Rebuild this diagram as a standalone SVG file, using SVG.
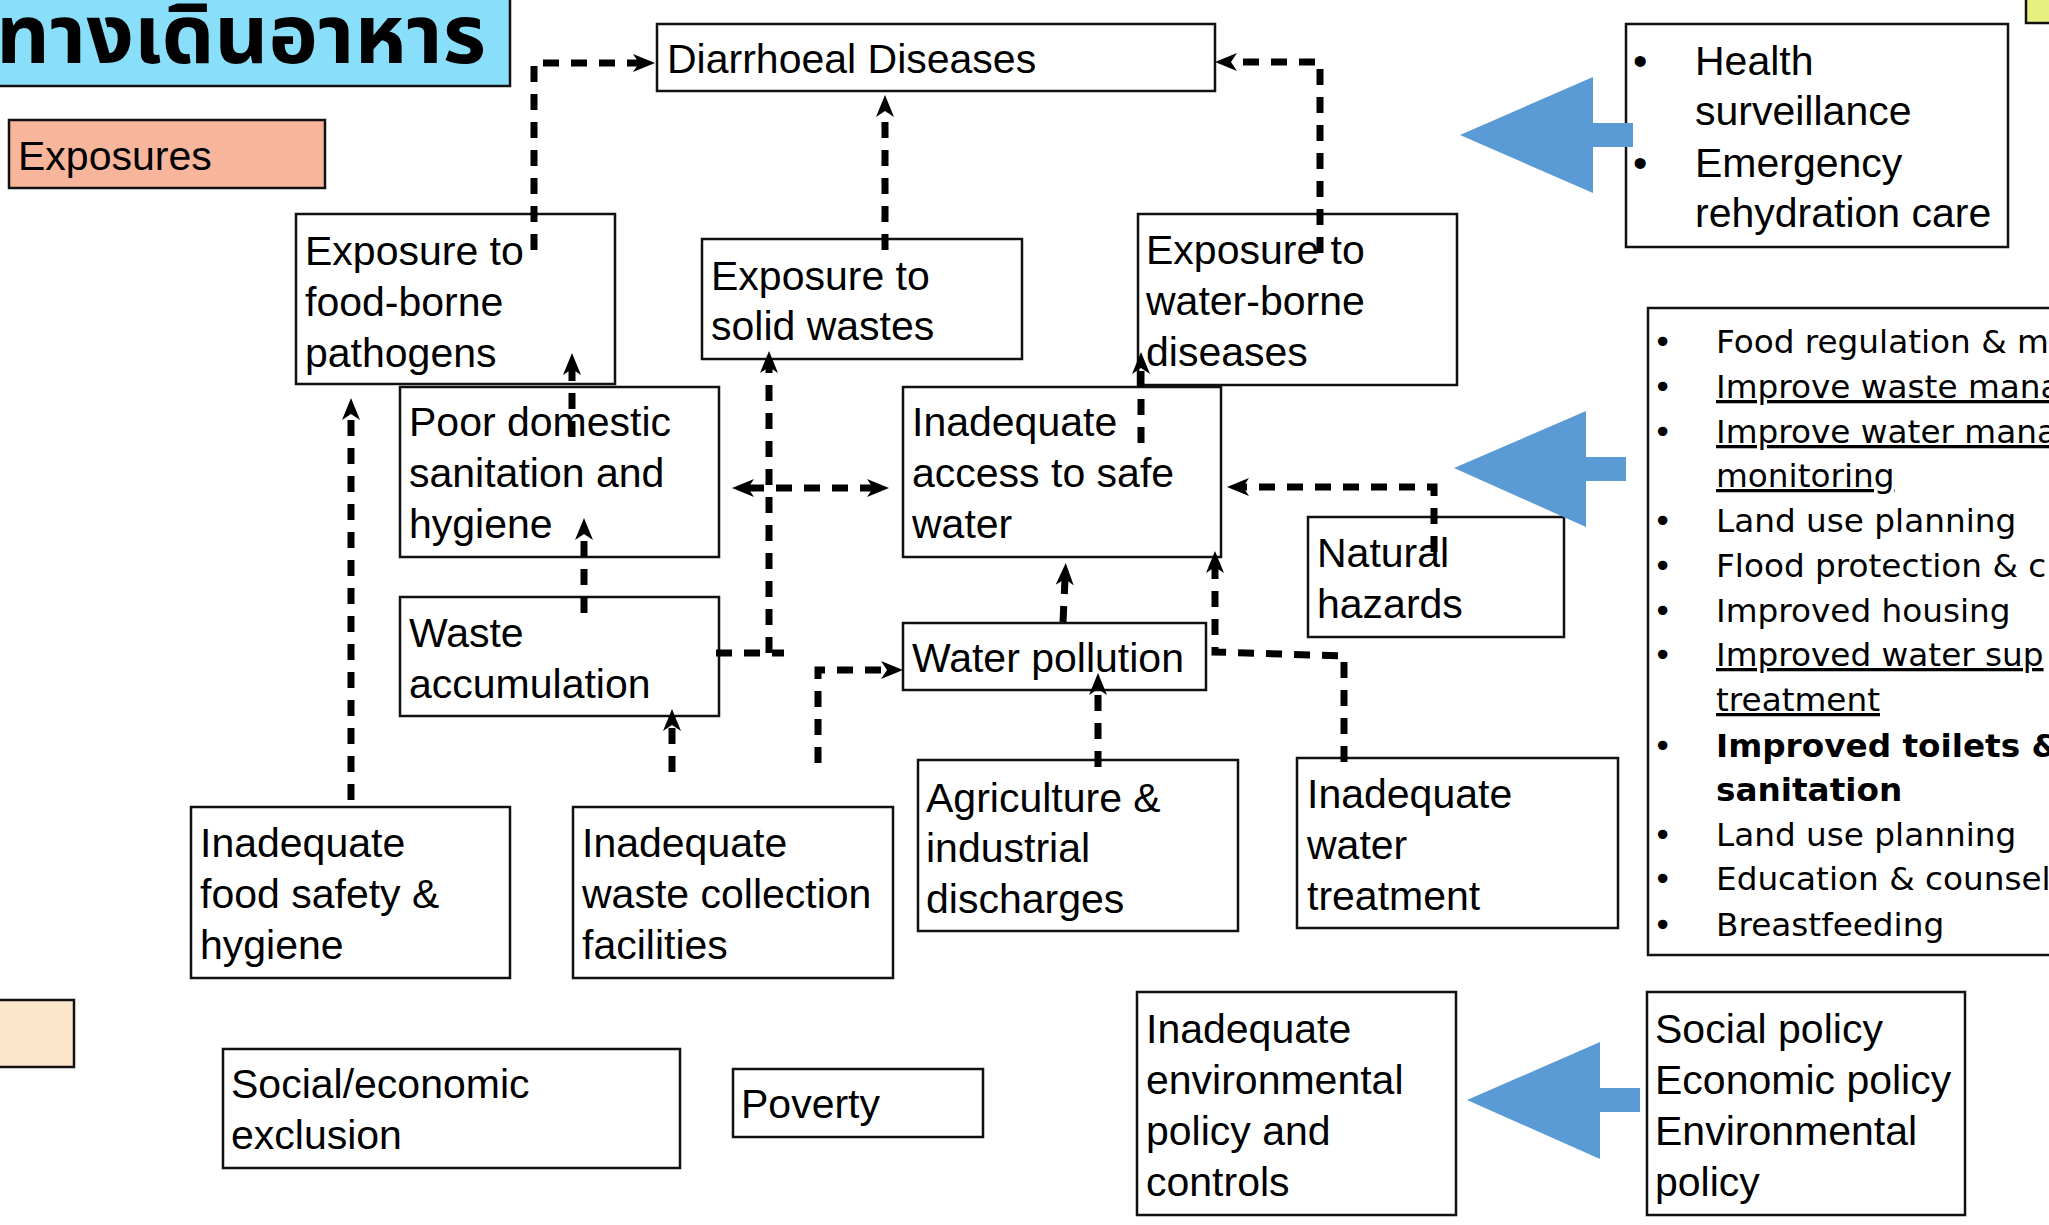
<svg xmlns="http://www.w3.org/2000/svg" width="2049" height="1225" viewBox="0 0 2049 1225">
<style>
.box{fill:#fff;stroke:#111;stroke-width:2.5}
.t{font-family:"Liberation Sans",Arial,sans-serif;font-size:41px;fill:#000}
.l{font-family:"DejaVu Sans",Verdana,sans-serif;font-size:32.7px;fill:#000}
.u{text-decoration:underline}
.b{font-weight:bold}
.c{fill:none;stroke:#000;stroke-width:7;stroke-dasharray:16 12}
.ca{fill:none;stroke:#000;stroke-width:7;stroke-dasharray:16 12;marker-end:url(#ah)}
.blue{fill:#5B9BD5}
</style>
<defs>
<marker id="ah" viewBox="0 0 22 18" refX="6" refY="9" markerWidth="22" markerHeight="18" markerUnits="userSpaceOnUse" orient="auto-start-reverse"><path d="M0,0 L22,9 L0,18 L6,9 Z" fill="#000"/></marker>
</defs>
<rect width="2049" height="1225" fill="#fff"/>

<g id="title">
<rect x="-5" y="-5" width="515" height="91" fill="#89DFFA" stroke="#111" stroke-width="2.5"/>
<text x="-4" y="63" font-family="'Noto Sans Thai','Noto Sans','DejaVu Sans',sans-serif" font-size="82" font-weight="bold" textLength="490" lengthAdjust="spacingAndGlyphs">ทางเดินอาหาร</text>
</g>
<g id="legend-exposures">
<rect x="9" y="120" width="316" height="68" fill="#F7B59B" stroke="#111" stroke-width="2.5"/>
<text class="t" x="18" y="170">Exposures</text>
</g>
<g id="legend-peach"><rect x="-5" y="1000" width="79" height="67" fill="#FCE6CB" stroke="#111" stroke-width="2.5"/></g>
<g id="legend-yellow"><rect x="2026" y="-5" width="40" height="28" fill="#E6F07F" stroke="#111" stroke-width="2.5"/></g>

<g id="diarrhoeal"><rect class="box" x="657" y="24" width="558" height="67"/><text class="t" x="667" y="73">Diarrhoeal Diseases</text></g>
<g id="exp-food"><rect class="box" x="296" y="214" width="319" height="170"/><text class="t" x="305" y="265">Exposure to</text><text class="t" x="305" y="316">food-borne</text><text class="t" x="305" y="367">pathogens</text></g>
<g id="exp-solid"><rect class="box" x="702" y="239" width="320" height="120"/><text class="t" x="711" y="290">Exposure to</text><text class="t" x="711" y="340">solid wastes</text></g>
<g id="exp-water"><rect class="box" x="1138" y="214" width="319" height="171"/><text class="t" x="1146" y="264">Exposure to</text><text class="t" x="1146" y="315">water-borne</text><text class="t" x="1146" y="366">diseases</text></g>
<g id="poor-sanitation"><rect class="box" x="400" y="387" width="319" height="170"/><text class="t" x="409" y="436">Poor domestic</text><text class="t" x="409" y="487">sanitation and</text><text class="t" x="409" y="538">hygiene</text></g>
<g id="safe-water"><rect class="box" x="903" y="387" width="318" height="170"/><text class="t" x="912" y="436">Inadequate</text><text class="t" x="912" y="487">access to safe</text><text class="t" x="912" y="538">water</text></g>
<g id="natural-hazards"><rect class="box" x="1308" y="517" width="256" height="120"/><text class="t" x="1317" y="567">Natural</text><text class="t" x="1317" y="618">hazards</text></g>
<g id="waste-accumulation"><rect class="box" x="400" y="597" width="319" height="119"/><text class="t" x="409" y="647">Waste</text><text class="t" x="409" y="698">accumulation</text></g>
<g id="water-pollution"><rect class="box" x="903" y="623" width="303" height="67"/><text class="t" x="912" y="672">Water pollution</text></g>
<g id="food-safety"><rect class="box" x="191" y="807" width="319" height="171"/><text class="t" x="200" y="857">Inadequate</text><text class="t" x="200" y="908">food safety &amp;</text><text class="t" x="200" y="959">hygiene</text></g>
<g id="waste-collection"><rect class="box" x="573" y="807" width="320" height="171"/><text class="t" x="582" y="857">Inadequate</text><text class="t" x="582" y="908">waste collection</text><text class="t" x="582" y="959">facilities</text></g>
<g id="agriculture"><rect class="box" x="918" y="760" width="320" height="171"/><text class="t" x="926" y="812">Agriculture &amp;</text><text class="t" x="926" y="862">industrial</text><text class="t" x="926" y="913">discharges</text></g>
<g id="water-treatment"><rect class="box" x="1297" y="758" width="321" height="170"/><text class="t" x="1307" y="808">Inadequate</text><text class="t" x="1307" y="859">water</text><text class="t" x="1307" y="910">treatment</text></g>
<g id="social-exclusion"><rect class="box" x="223" y="1049" width="457" height="119"/><text class="t" x="231" y="1098">Social/economic</text><text class="t" x="231" y="1149">exclusion</text></g>
<g id="poverty"><rect class="box" x="733" y="1069" width="250" height="68"/><text class="t" x="741" y="1118">Poverty</text></g>
<g id="env-policy"><rect class="box" x="1137" y="992" width="319" height="223"/><text class="t" x="1146" y="1043">Inadequate</text><text class="t" x="1146" y="1094">environmental</text><text class="t" x="1146" y="1145">policy and</text><text class="t" x="1146" y="1196">controls</text></g>
<g id="policies"><rect class="box" x="1647" y="992" width="318" height="223"/><text class="t" x="1655" y="1043">Social policy</text><text class="t" x="1655" y="1094">Economic policy</text><text class="t" x="1655" y="1145">Environmental</text><text class="t" x="1655" y="1196">policy</text></g>
<g id="health-actions"><rect class="box" x="1626" y="24" width="382" height="223"/>
<text class="t" x="1633" y="75">•</text><text class="t" x="1695" y="75">Health</text><text class="t" x="1695" y="125">surveillance</text>
<text class="t" x="1633" y="177">•</text><text class="t" x="1695" y="177">Emergency</text><text class="t" x="1695" y="227">rehydration care</text></g>
<g id="env-actions"><rect class="box" x="1648" y="308" width="420" height="647"/>
<text class="l" x="1653" y="353">•</text><text class="l" x="1716" y="353">Food regulation &amp; m</text>
<text class="l" x="1653" y="398">•</text><text class="l u" x="1716" y="398">Improve waste mana</text>
<text class="l" x="1653" y="443">•</text><text class="l u" x="1716" y="443">Improve water mana</text>
<text class="l u" x="1716" y="487">monitoring</text>
<text class="l" x="1653" y="532">•</text><text class="l" x="1716" y="532">Land use planning</text>
<text class="l" x="1653" y="577">•</text><text class="l" x="1716" y="577">Flood protection &amp; c</text>
<text class="l" x="1653" y="622">•</text><text class="l" x="1716" y="622">Improved housing</text>
<text class="l" x="1653" y="666">•</text><text class="l u" x="1716" y="666">Improved water sup</text>
<text class="l u" x="1716" y="711">treatment</text>
<text class="l" x="1653" y="757">•</text><text class="l b" x="1716" y="757">Improved toilets &amp;</text>
<text class="l b" x="1716" y="801">sanitation</text>
<text class="l" x="1653" y="846">•</text><text class="l" x="1716" y="846">Land use planning</text>
<text class="l" x="1653" y="890">•</text><text class="l" x="1716" y="890">Education &amp; counsel</text>
<text class="l" x="1653" y="936">•</text><text class="l" x="1716" y="936">Breastfeeding</text>
</g>

<g id="connectors">
<path class="ca" d="M534,250 V63 H639"/>
<path class="ca" d="M885,250 V111"/>
<path class="ca" d="M1320,253 V62 H1231"/>
<path class="ca" d="M572,437 V369"/>
<path class="ca" d="M351,800 V414"/>
<path class="ca" d="M584,613 V534"/>
<path class="ca" d="M672,772 V725"/>
<path class="c" d="M716,653 H784"/>
<path class="ca" d="M769,653 V367"/>
<path class="ca" d="M748,488 H873" marker-start="url(#ah)"/>
<path class="ca" d="M818,763 V670 H887"/>
<path class="ca" d="M1063,622 L1065,579"/>
<path class="ca" d="M1098,767 V689"/>
<path class="ca" d="M1344,762 V656 L1215,652 V567"/>
<path class="ca" d="M1434,552 V487 H1243"/>
<path class="ca" d="M1141,443 V368"/>
</g>

<g id="blue-arrows">
<polygon class="blue" points="1460,135 1593,77 1593,123 1633,123 1633,147 1593,147 1593,193"/>
<polygon class="blue" points="1454,468 1586,411 1586,457 1626,457 1626,481 1586,481 1586,527"/>
<polygon class="blue" points="1467,1100 1600,1042 1600,1088 1640,1088 1640,1112 1600,1112 1600,1159"/>
</g>
</svg>
